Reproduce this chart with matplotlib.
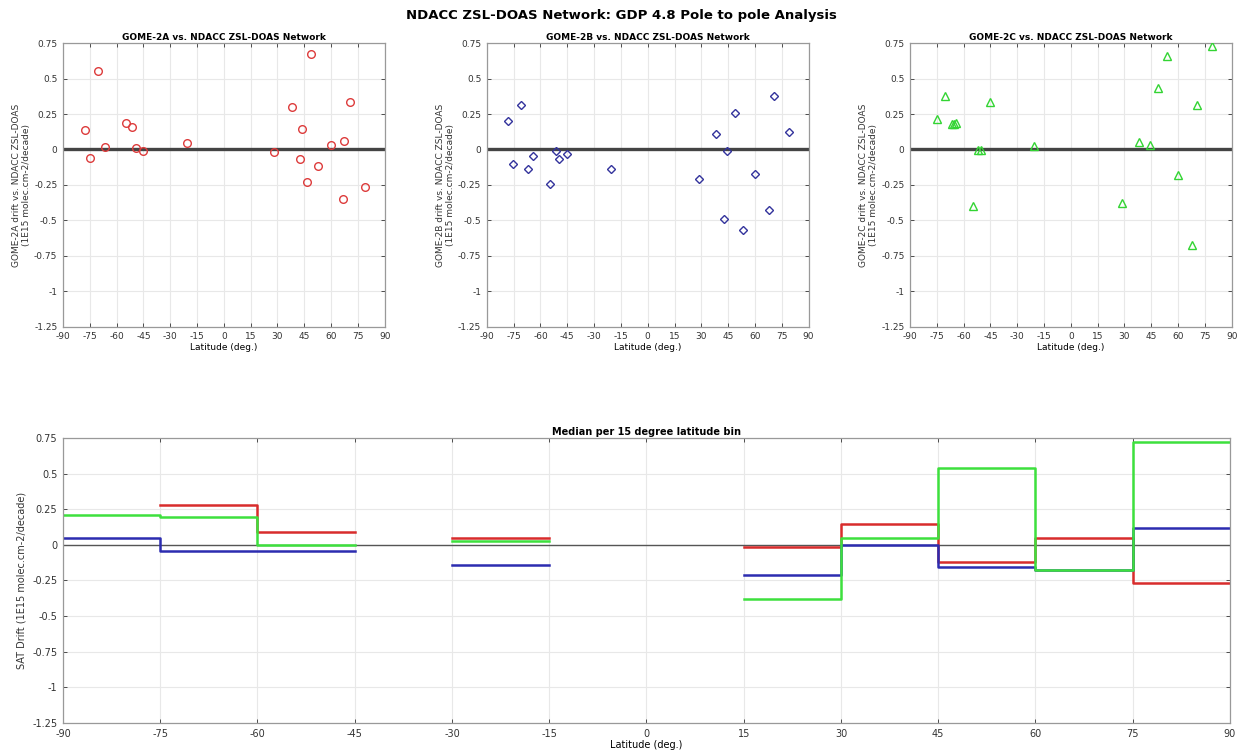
import matplotlib
matplotlib.use("Agg")
import matplotlib.pyplot as plt
import numpy as np

# scatter data (latitude, drift)
lat_2a = [-77.9, -75.1, -70.6, -66.5, -54.9, -51.6, -49.3, -45.0, -20.8,
          28.3, 38.2, 42.5, 44.0, 46.6, 48.6, 52.5, 60.0, 66.7, 67.5, 70.4, 79.0]
drift_2a = [0.14, -0.062, 0.55, 0.015, 0.19, 0.16, 0.01, -0.01, 0.048,
            -0.015, 0.30, -0.067, 0.145, -0.23, 0.67, -0.116, 0.03, -0.35, 0.06, 0.335, -0.266]

lat_2b = [-77.9, -75.2, -70.9, -66.8, -64.2, -54.7, -51.5, -49.4, -45.0, -20.8,
          28.5, 38.0, 42.9, 44.2, 48.9, 53.4, 60.3, 67.8, 70.7, 79.2]
drift_2b = [0.20, -0.105, 0.316, -0.137, -0.046, -0.24, -0.013, -0.069, -0.03, -0.14,
            -0.21, 0.11, -0.487, -0.008, 0.26, -0.57, -0.175, -0.428, 0.38, 0.12]

lat_2c = [-75.0, -70.4, -66.6, -65.3, -64.2, -54.9, -51.7, -50.2, -45.0, -20.8,
          28.5, 38.4, 44.2, 49.0, 53.6, 60.0, 67.6, 70.7, 79.2]
drift_2c = [0.213, 0.38, 0.177, 0.182, 0.19, -0.395, -0.003, -0.003, 0.335, 0.022,
            -0.377, 0.055, 0.034, 0.435, 0.656, -0.183, -0.675, 0.315, 0.73]

# medians per 15 degree bin (NaN = no data)
bin_edges = np.arange(-90, 91, 15)
median_2a = [np.nan, 0.28, 0.087, np.nan, 0.05, np.nan, np.nan, -0.012, 0.143, -0.12, 0.047, -0.267]
median_2b = [0.05, -0.045, -0.045, np.nan, -0.14, np.nan, np.nan, -0.21, 0.0, -0.157, -0.175, 0.12]
median_2c = [0.21, 0.195, 0.0, np.nan, 0.026, np.nan, np.nan, -0.38, 0.05, 0.54, -0.178, 0.72]

lat_ticks = np.arange(-90, 91, 15)
drift_ticks = [-1.25, -1, -0.75, -0.5, -0.25, 0, 0.25, 0.5, 0.75]
drift_ticklabels = ["-1.25", "-1", "-0.75", "-0.5", "-0.25", "0", "0.25", "0.5", "0.75"]


def style_axis(ax):
    ax.set_xlim(-90, 90)
    ax.set_ylim(-1.25, 0.75)
    ax.set_xticks(lat_ticks)
    ax.set_xticklabels([str(t) for t in lat_ticks])
    ax.set_yticks(drift_ticks)
    ax.set_yticklabels(drift_ticklabels)
    ax.grid(True, color="#e8e8e8", linewidth=0.8)
    ax.set_axisbelow(True)
    ax.tick_params(labelsize=6.5, colors="#333333", length=3, width=0.6,
                   direction="in", top=True, right=True, pad=4)
    for sp in ax.spines.values():
        sp.set_color("#999999")
        sp.set_linewidth(0.9)


def step_line(ax, values, color):
    vals = np.asarray(values, dtype=float)
    xs = np.repeat(bin_edges, 2)[1:-1]
    ys = np.repeat(vals, 2)
    ax.plot(xs, ys, color=color, linewidth=1.8)


fig = plt.figure(figsize=(12.42, 7.55), dpi=100)
fig.suptitle("NDACC ZSL-DOAS Network: GDP 4.8 Pole to pole Analysis",
             fontsize=9.5, fontweight="bold", y=0.988)

panels = [
    ("GOME-2A", lat_2a, drift_2a, "o", "#dd3b3b", 0.0507),
    ("GOME-2B", lat_2b, drift_2b, "D", "#33339c", 0.392),
    ("GOME-2C", lat_2c, drift_2c, "^", "#33d433", 0.7327),
]
for name, lat, drift, marker, color, left in panels:
    ax = fig.add_axes([left, 0.567, 0.2590, 0.376])
    style_axis(ax)
    ax.axhline(0, color="#444444", linewidth=2.4, zorder=2)
    ms = 4.5 if marker == "D" else 5.5
    ax.plot(lat, drift, linestyle="none", marker=marker, markersize=ms,
            markerfacecolor="none", markeredgecolor=color, markeredgewidth=1.0, zorder=3)
    ax.set_title(name + " vs. NDACC ZSL-DOAS Network", fontsize=6.5,
                 fontweight="bold", pad=2)
    ax.set_xlabel("Latitude (deg.)", fontsize=6.5, labelpad=1)
    ax.set_ylabel(name + " drift vs. NDACC ZSL-DOAS\n(1E15 molec.cm-2/decade)",
                  fontsize=6.5, labelpad=2, color="#333333")

axb = fig.add_axes([0.0507, 0.0424, 0.9396, 0.3775])
style_axis(axb)
axb.axhline(0, color="#555555", linewidth=1.0, zorder=2)
step_line(axb, median_2a, "#d82c2c")
step_line(axb, median_2b, "#2c2cb0")
step_line(axb, median_2c, "#3de03d")
axb.set_title("Median per 15 degree latitude bin", fontsize=7, fontweight="bold", pad=2)
axb.set_xlabel("Latitude (deg.)", fontsize=7, labelpad=1)
axb.set_ylabel("SAT Drift (1E15 molec.cm-2/decade)", fontsize=7, color="#333333")
axb.tick_params(labelsize=7)

fig.savefig("out.png", dpi=100)
